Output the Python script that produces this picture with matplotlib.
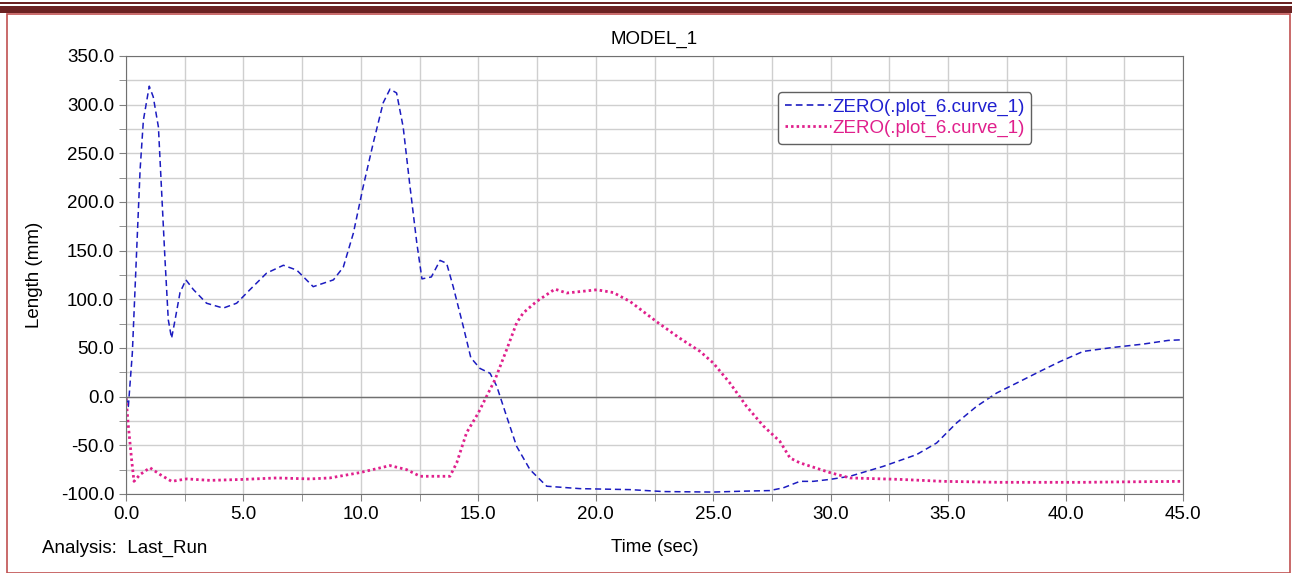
import matplotlib
matplotlib.use("Agg")
from matplotlib import pyplot as plt
from matplotlib.patches import Rectangle
from matplotlib.lines import Line2D

# blue dashed curve
t_blue = [0.0, 0.1, 0.27, 0.45, 0.6, 0.74, 0.99, 1.16, 1.38, 1.52, 1.66, 1.8, 1.94,
          2.09, 2.3, 2.55, 2.87, 3.43, 4.14, 4.71, 5.28, 5.99, 6.7, 7.27, 7.97,
          8.83, 9.25, 9.68, 10.1, 10.53, 10.95, 11.24, 11.52, 11.8, 12.09, 12.38,
          12.6, 13.0, 13.37, 13.65, 13.93, 14.36, 14.68, 15.07, 15.5, 15.78, 16.2,
          16.63, 17.2, 17.91, 19.33, 21.46, 22.87, 25.0, 26.42, 27.4, 27.98, 28.69,
          29.26, 29.97, 30.82, 32.24, 33.66, 34.51, 35.36, 36.21, 37.07, 37.92,
          38.91, 39.76, 40.75, 42.03, 43.3, 44.37, 45.0]
v_blue = [0, -10, 45, 148, 233, 284, 319, 308, 277, 209, 141, 79, 60,
          79, 107, 120, 110, 96, 91, 96, 110, 127, 135, 130, 113,
          120, 133, 168, 216, 261, 302, 316, 312, 277, 216, 158,
          121, 123, 140, 137, 113, 72, 40, 29, 24, 11, -20,
          -51, -75, -92, -94.5, -95.5, -97.5, -98, -97, -96.5, -93.7, -87,
          -87, -85, -81.8, -71.6, -59.5, -47.6, -27, -10, 3.8, 14,
          26, 36, 46.5, 50.6, 54, 57.8, 58.5]

# pink dotted curve
t_pink = [0.0, 0.1, 0.24, 0.34, 0.6, 1.02, 1.45, 1.94, 2.58, 3.58, 5.0, 6.41, 7.83,
          8.68, 9.96, 11.24, 11.95, 12.52, 13.79, 14.08, 14.5, 15.0, 15.35, 15.71,
          16.2, 16.63, 16.91, 17.48, 18.26, 18.76, 20.04, 20.74, 21.46, 22.59,
          23.58, 24.44, 25.0, 25.71, 26.42, 27.13, 27.84, 28.27, 28.69, 29.97,
          30.82, 32.95, 34.8, 37.2, 40.75, 42.17, 45.0]
v_pink = [-1, -30, -65, -87, -80, -73, -80, -87, -84.5, -86, -85, -83.5, -84.5,
          -83.5, -78, -70.8, -75, -81.8, -81.8, -68, -37, -16.7, 0.3, 17.5,
          48, 75.7, 86, 97.8, 110.5, 106.5, 109.8, 107, 97.8, 77,
          60, 46.5, 34.6, 14, -10, -30, -46, -63, -68, -78,
          -83.5, -85, -87, -88, -88, -87.6, -87]

x_ticks = [0, 5, 10, 15, 20, 25, 30, 35, 40, 45]
y_ticks = [-100, -50, 0, 50, 100, 150, 200, 250, 300, 350]
legend_labels = ["ZERO(.plot_6.curve_1)", "ZERO(.plot_6.curve_1)"]

plt.rcParams['font.family'] = ['Liberation Sans', 'DejaVu Sans']

blue = "#1c1cc0"
pink = "#e0208c"
fs = 13.5

fig = plt.figure(figsize=(12.92, 5.73), dpi=100)

# page frame bits around the chart
fig.add_artist(Rectangle((0, 1 - 4 / 573), 1, 2 / 573, transform=fig.transFigure,
                         color="#6b2222", lw=0))
fig.add_artist(Rectangle((0, 1 - 13 / 573), 1, 7 / 573, transform=fig.transFigure,
                         color="#6b2222", lw=0))
fig.add_artist(Rectangle((7 / 1292, 0), 1283 / 1292, 1 - 14 / 573,
                         transform=fig.transFigure, fill=False,
                         edgecolor="#c05050", lw=1.2))

ax = fig.add_axes([126 / 1292, 1 - 494 / 573, 1057 / 1292, 438 / 573])

ax.plot(t_blue, v_blue, color=blue, lw=1.1, linestyle=(0, (4, 2.5)))
ax.plot(t_pink, v_pink, color=pink, lw=2.0, linestyle=(0, (0.9, 1.1)))

ax.set_xlim(0, 45)
ax.set_ylim(-100, 350)
ax.set_xticks(x_ticks)
ax.set_xticklabels([f"{v:.1f}" for v in x_ticks])
ax.set_yticks(y_ticks)
ax.set_yticklabels([f"{v:.1f}" for v in y_ticks])
ax.set_xticks([x + 2.5 for x in x_ticks[:-1]], minor=True)
ax.set_yticks([y + 25 for y in y_ticks[:-1]], minor=True)
ax.tick_params(which="both", direction="out", length=5, color="#808080",
               labelsize=fs)
ax.grid(which="both", color="#cfcfcf", lw=1.0)
ax.axhline(0, color="#707070", lw=1.0)
for s in ax.spines.values():
    s.set_color("#707070")
ax.set_axisbelow(True)

ax.set_title("MODEL_1", fontsize=fs, pad=9)
ax.set_ylabel("Length (mm)", fontsize=fs, labelpad=13)
fig.text(655 / 1292, 1 - 548 / 573, "Time (sec)", ha="center", va="center",
         fontsize=fs)
fig.text(42 / 1292, 1 - 548 / 573, "Analysis:  Last_Run", ha="left",
         va="center", fontsize=fs)

handles = [Line2D([], [], color=blue, lw=1.2, linestyle=(0, (4, 2.5))),
           Line2D([], [], color=pink, lw=2.0, linestyle=(0, (0.9, 1.1)))]
leg = ax.legend(handles, legend_labels, loc="upper left",
                bbox_to_anchor=(652 / 1057, 1 - 36 / 438), borderaxespad=0,
                fontsize=fs, frameon=True, fancybox=True, framealpha=1,
                edgecolor="#606060", handlelength=2.5, handletextpad=0.05,
                labelspacing=0.2, borderpad=0.35)
leg.get_frame().set_linewidth(1.0)
leg.texts[0].set_color("#2020d0")
leg.texts[1].set_color(pink)

fig.savefig("out.png", dpi=100)
